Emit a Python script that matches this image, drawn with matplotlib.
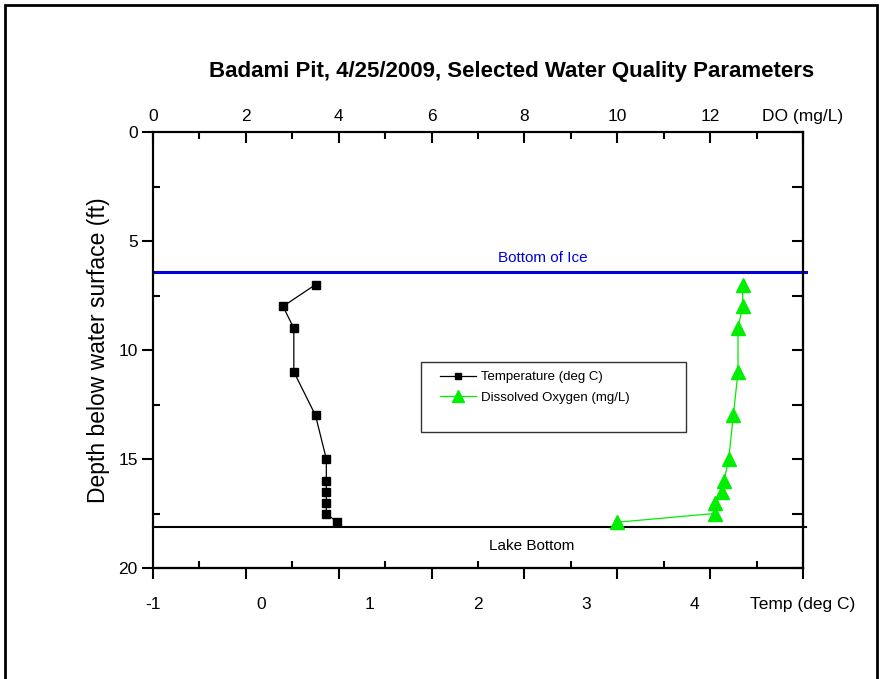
import numpy as np
import matplotlib
matplotlib.use("Agg")
from matplotlib import pyplot as plt
from matplotlib.patches import Rectangle
import matplotlib.transforms as mtransforms

plt.rcParams['font.family'] = ['Liberation Sans', 'DejaVu Sans']

# data
depth = [7, 8, 9, 11, 13, 15, 16, 16.5, 17, 17.5, 17.9]
temp = [0.5, 0.2, 0.3, 0.3, 0.5, 0.6, 0.6, 0.6, 0.6, 0.6, 0.7]
do = [12.7, 12.7, 12.6, 12.6, 12.5, 12.4, 12.3, 12.25, 12.1, 12.1, 10.0]
ice_depth = 6.4
bottom_depth = 18.1

temp_ticks = [-1, 0, 1, 2, 3, 4, 5]
temp_labels = ['-1', '0', '1', '2', '3', '4', 'Temp (deg C)']
do_ticks = [0, 2, 4, 6, 8, 10, 12, 14]
do_labels = ['0', '2', '4', '6', '8', '10', '12', 'DO (mg/L)']
depth_ticks = [0, 5, 10, 15, 20]

fig = plt.figure(figsize=(8.81, 6.79), dpi=100)
ax = fig.add_axes([153/881, 1-568/679, 650/881, 436/679])

# outer frame
fig.patches.append(Rectangle((5/881, -0.05), 872/881, 1-5/679+0.05, transform=fig.transFigure,
                             fill=False, lw=2, ec='black'))

l1, = ax.plot(temp, depth, '-s', color='black', lw=0.9, ms=5.5, label='Temperature (deg C)')
ax.set_xlim(-1, 5)
ax.set_ylim(20, 0)

ax2 = ax.twiny()
l2, = ax2.plot(do, depth, '-^', color='#00ee00', mec='#00ee00', lw=0.9, ms=9.5,
               label='Dissolved Oxygen (mg/L)')
ax2.set_xlim(0, 14)

# horizontal reference lines
ax.axhline(ice_depth, color='#0000dd', lw=2.2, xmax=1.005, clip_on=False)
ax.axhline(bottom_depth, color='black', lw=1.5, xmax=1.005, clip_on=False)
trans = mtransforms.blended_transform_factory(ax.transAxes, ax.transData)
ax.text(0.6, ice_depth - 0.3, 'Bottom of Ice', color='#0000dd', fontsize=11,
        ha='center', va='bottom', transform=trans)
ax.text(0.582, bottom_depth + 0.55, 'Lake Bottom', color='black', fontsize=11,
        ha='center', va='top', transform=trans)

for a in (ax, ax2):
    for s in a.spines.values():
        s.set_linewidth(1.5)

# bottom axis: labels in temp, ticks follow the DO grid
ax.set_xticks(temp_ticks, temp_labels)
ax.tick_params(axis='x', which='major', length=0, pad=21, labelsize=12.5)
sec_b = ax.secondary_xaxis('bottom', functions=(lambda t: (t + 1) * 14 / 6, lambda d: d * 6 / 14 - 1))
sec_b.set_xticks(do_ticks, [''] * len(do_ticks))
sec_b.set_xticks(np.arange(1, 14, 2), minor=True)
sec_b.tick_params(which='major', direction='out', length=8, width=1.5)
sec_b.tick_params(which='minor', direction='in', length=5, width=1.5)
sec_b.spines['bottom'].set_linewidth(1.5)

# top axis
ax2.set_xticks(do_ticks, do_labels)
ax2.set_xticks(np.arange(1, 14, 2), minor=True)
ax2.tick_params(axis='x', which='major', direction='in', length=8, width=1.5, pad=6, labelsize=12.5)
ax2.tick_params(axis='x', which='minor', direction='in', length=5, width=1.5)

# left axis
ax.set_yticks(depth_ticks)
ax.set_yticks([2.5, 7.5, 12.5, 17.5], minor=True)
ax.tick_params(axis='y', which='major', direction='out', length=8, width=1.5, pad=3, labelsize=12.5)
ax.tick_params(axis='y', which='minor', direction='in', length=5, width=1.5)
ax.set_ylabel('Depth below water surface (ft)', fontsize=16.5, labelpad=6)

# right axis ticks
sec_r = ax.secondary_yaxis('right')
sec_r.set_yticks(depth_ticks, [''] * len(depth_ticks))
sec_r.set_yticks([2.5, 7.5, 12.5, 17.5], minor=True)
sec_r.tick_params(which='both', direction='in', length=8, width=1.5)
sec_r.spines['right'].set_linewidth(1.5)

fig.text(512/881, 1-72/679, 'Badami Pit, 4/25/2009, Selected Water Quality Parameters',
         fontsize=16, fontweight='bold', ha='center', va='center')

# legend
fig.patches.append(Rectangle((421/881, 1-432/679), 265/881, 70/679, transform=fig.transFigure,
                             fill=False, lw=1, ec='#333333'))
fig.legend(handles=[l1, l2], loc='upper left', bbox_to_anchor=(440/881, 1-371/679),
           frameon=False, fontsize=9.5, handlelength=2.7, handletextpad=0.4,
           labelspacing=0.65, borderpad=0, borderaxespad=0, markerscale=0.9)

fig.savefig('out.png', dpi=100)
